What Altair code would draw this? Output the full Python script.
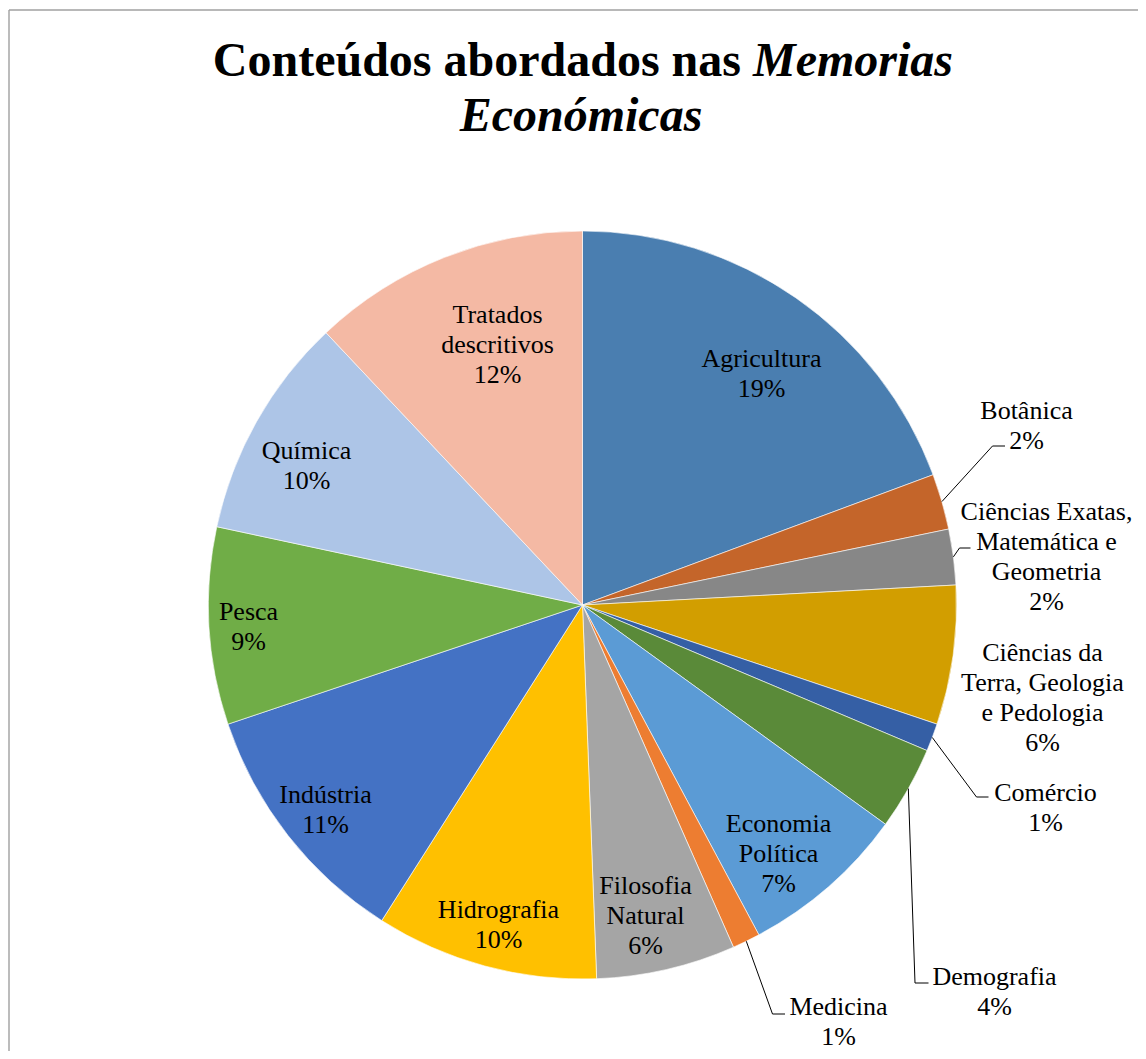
import altair as alt
import pandas as pd
import numpy as np

# ---------------- data ----------------
categories = [
    "Agricultura", "Botânica", "Ciências Exatas, Matemática e Geometria",
    "Ciências da Terra, Geologia e Pedologia", "Comércio", "Demografia",
    "Economia Política", "Medicina", "Filosofia Natural", "Hidrografia",
    "Indústria", "Pesca", "Química", "Tratados descritivos",
]
shares = [19.3, 2.4, 2.4, 6.0, 1.2, 3.6, 7.2, 1.2, 6.0, 9.6, 10.8, 8.5, 9.6, 12.0]
colors = [
    "#4A7EB0", "#C4652A", "#878787", "#D29E00", "#355FA5", "#5A8A39",
    "#5B9BD5", "#ED7D31", "#A5A5A5", "#FFC000", "#4472C4", "#70AD47",
    "#ADC5E7", "#F4B9A4",
]
label_lines = [
    ["Agricultura"], ["Botânica"], ["Ciências Exatas,", "Matemática e", "Geometria"],
    ["Ciências da", "Terra, Geologia", "e Pedologia"], ["Comércio"], ["Demografia"],
    ["Economia", "Política"], ["Medicina"], ["Filosofia", "Natural"], ["Hidrografia"],
    ["Indústria"], ["Pesca"], ["Química"], ["Tratados", "descritivos"],
]
title_line1_a = "Conteúdos abordados nas"
title_line1_b = "Memorias"
title_line2 = "Económicas"

# ---------------- layout ----------------
W, H = 1130, 1043
CX, CY = 574.5, 597.0   # pie centre inside the view
R = 374
FONT = "Liberation Serif"
LABEL_SIZE = 26
LINE_H = 30

# label anchor: (dx of text centre, dy of first baseline) relative to pie centre
label_offsets = {
    "Agricultura": (179, -238),
    "Botânica": (444, -186),
    "Ciências Exatas, Matemática e Geometria": (464, -85),
    "Ciências da Terra, Geologia e Pedologia": (460, 56),
    "Comércio": (463, 196),
    "Demografia": (412, 380),
    "Economia Política": (196, 227),
    "Medicina": (256, 410),
    "Filosofia Natural": (63, 289),
    "Hidrografia": (-84, 313),
    "Indústria": (-257, 198),
    "Pesca": (-334, 15),
    "Química": (-276, -146),
    "Tratados descritivos": (-85, -282),
}
# leader lines: elbow and end points relative to pie centre
leader_offsets = {
    "Botânica": [(410, -159), (422.5, -159)],
    "Ciências Exatas, Matemática e Geometria": [(377, -57), (388, -57)],
    "Comércio": [(394, 192), (406, 192)],
    "Demografia": [(332.5, 378), (346, 378)],
    "Medicina": [(190, 409), (202.5, 409)],
}

# ---------------- tables ----------------
vals = np.array(shares, dtype=float)
total = vals.sum()
pcts = [f"{int(np.floor(v / total * 100 + 0.5))}%" for v in vals]
ends = np.cumsum(vals) / total * 2 * np.pi
starts = ends - vals / total * 2 * np.pi
mids = (starts + ends) / 2

pie_df = pd.DataFrame({"category": categories, "value": shares, "idx": range(len(categories))})

rows = []
for i, cat in enumerate(categories):
    dx, dy = label_offsets[cat]
    lines = label_lines[i] + [pcts[i]]
    for j, t in enumerate(lines):
        rows.append({"category": cat, "text": t, "px": CX + dx, "py": CY + dy + j * LINE_H})
text_df = pd.DataFrame(rows)

lrows = []
for i, cat in enumerate(categories):
    if cat in leader_offsets:
        a = mids[i]
        pts = [(R * np.sin(a), -R * np.cos(a))] + leader_offsets[cat]
        for k, (ox, oy) in enumerate(pts):
            lrows.append({"category": cat, "k": k, "px": CX + ox, "py": CY + oy})
lead_df = pd.DataFrame(lrows)

title_df = pd.DataFrame([
    {"text": title_line1_a, "px": 733, "py": 68, "part": "a"},
    {"text": title_line1_b, "px": 745, "py": 68, "part": "b"},
    {"text": title_line2, "px": 573, "py": 123, "part": "c"},
])

X = lambda f: alt.X(f, type="quantitative", scale=None, axis=None)
Y = lambda f: alt.Y(f, type="quantitative", scale=None, axis=None)

pie = alt.Chart(pie_df).mark_arc(outerRadius=R, stroke="#FFFFFF", strokeWidth=0.6).encode(
    theta=alt.Theta("value:Q", stack=True),
    color=alt.Color("category:N", scale=alt.Scale(domain=categories, range=colors), legend=None),
    order=alt.Order("idx:Q", sort="ascending"),
    x=alt.value(CX),
    y=alt.value(CY),
)

labels = alt.Chart(text_df).mark_text(
    font=FONT, fontSize=LABEL_SIZE, color="#000000", align="center", baseline="alphabetic"
).encode(x=X("px"), y=Y("py"), text="text:N")

leaders = alt.Chart(lead_df).mark_line(color="#000000", strokeWidth=1).encode(
    x=X("px"), y=Y("py"), detail="category:N", order="k:Q"
)

t1a = alt.Chart(title_df[title_df.part == "a"]).mark_text(
    font=FONT, fontSize=48, fontWeight="bold", color="#000000", align="right", baseline="alphabetic"
).encode(x=X("px"), y=Y("py"), text="text:N")
t1b = alt.Chart(title_df[title_df.part == "b"]).mark_text(
    font=FONT, fontSize=48, fontWeight="bold", fontStyle="italic", color="#000000", align="left", baseline="alphabetic"
).encode(x=X("px"), y=Y("py"), text="text:N")
t2 = alt.Chart(title_df[title_df.part == "c"]).mark_text(
    font=FONT, fontSize=48, fontWeight="bold", fontStyle="italic", color="#000000", align="center", baseline="alphabetic"
).encode(x=X("px"), y=Y("py"), text="text:N")

border = alt.Data(values=[{"a": 1}])
left_border = alt.Chart(border).mark_rule(color="#A0A0A0", strokeWidth=1.4).encode(
    x=alt.value(1), y=alt.value(2), y2=alt.value(H)
)
top_border = alt.Chart(border).mark_rule(color="#A0A0A0", strokeWidth=1.4).encode(
    x=alt.value(1), x2=alt.value(W), y=alt.value(2)
)

chart = alt.layer(pie, leaders, labels, t1a, t1b, t2, left_border, top_border).properties(
    width=W, height=H, padding=0, autosize=alt.AutoSizeParams(type="none"), background="#FFFFFF"
).configure_view(stroke=None)

chart.save("out.html", embed_options={"renderer": "svg", "actions": False})
